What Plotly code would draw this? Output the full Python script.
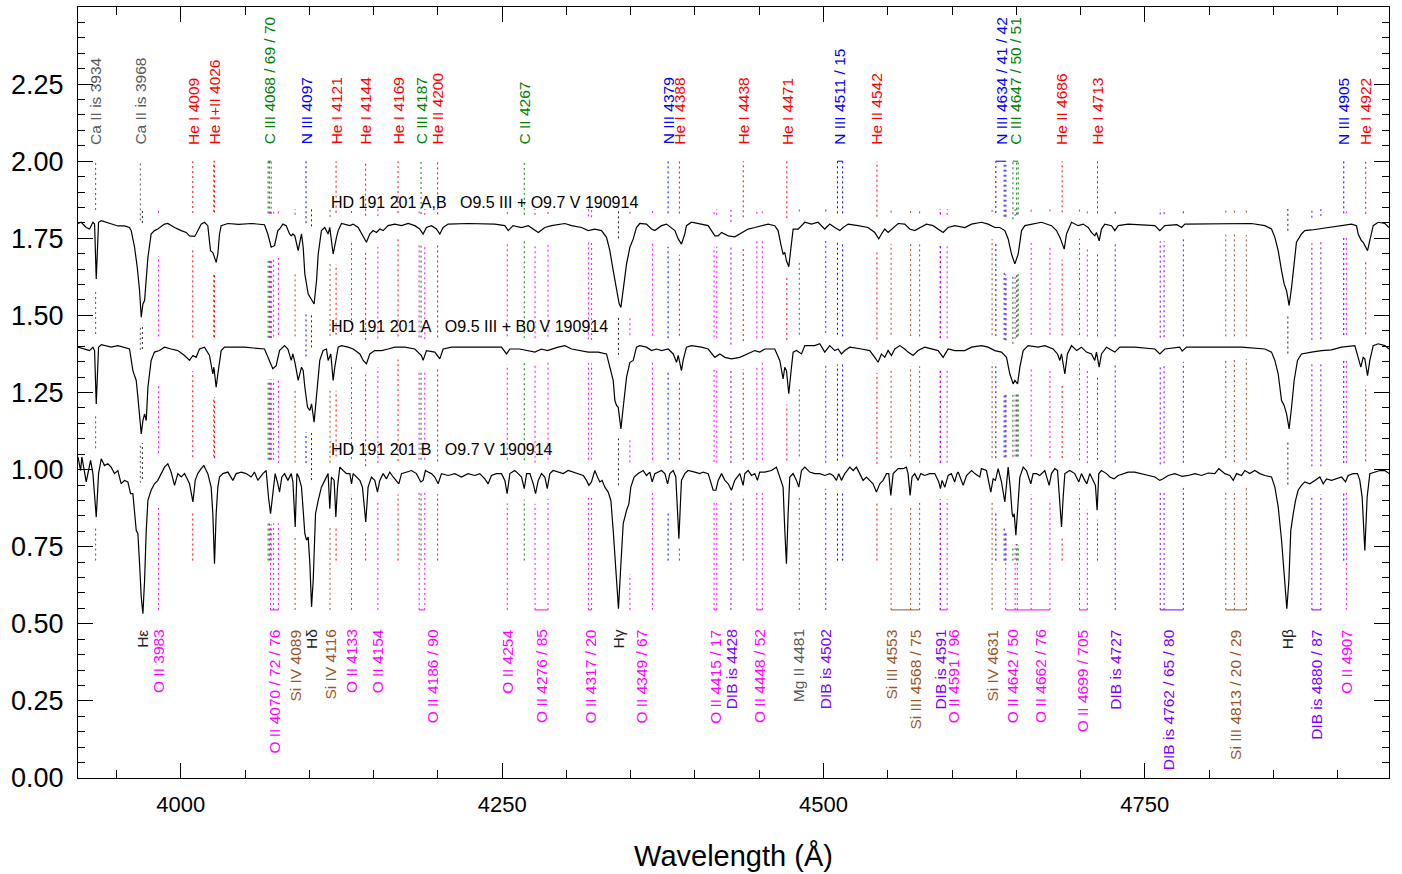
import numpy as np
import plotly.graph_objects as go

# ---------------- DATA ----------------
# normalized spectra (continuum = 1): (wavelength [A], flux)
spec_AB = [
(3920.0,0.998),(3922.5,1.002),(3926.4,0.985),(3929.0,0.980),(3931.6,1.002),(3932.9,0.996),(3934.2,0.818),(3936.0,1.002),
(3938.1,1.007),(3945.8,0.996),(3951.0,0.990),(3956.2,0.990),(3960.1,0.985),(3961.4,0.975),(3964.0,0.921),(3966.1,0.856),
(3967.9,0.780),(3969.2,0.694),(3970.5,0.737),(3971.8,0.748),(3973.1,0.813),(3974.4,0.888),(3976.9,0.964),(3979.5,0.975),
(3982.1,0.980),(3987.3,0.996),(3989.9,0.998),(3995.1,0.985),(4000.3,0.975),(4004.2,0.969),(4006.8,0.958),(4010.7,0.956),
(4011.9,0.964),(4015.8,0.996),(4018.4,1.002),(4021.0,0.991),(4023.1,0.910),(4024.9,0.904),(4026.2,0.888),(4027.5,0.872),
(4028.8,0.899),(4030.1,0.964),(4031.4,0.991),(4036.6,0.998),(4045.0,0.995),(4055.0,0.998),(4065.1,0.994),(4067.7,0.964),
(4070.3,0.921),(4072.9,0.926),(4075.5,0.975),(4076.8,0.980),(4079.4,0.996),(4082.0,0.991),(4084.6,0.964),(4085.9,0.958),
(4087.2,0.964),(4088.7,0.958),(4091.3,0.910),(4092.6,0.942),(4093.9,0.964),(4095.2,0.921),(4096.5,0.834),(4099.1,0.769),
(4101.7,0.753),(4103.7,0.737),(4105.6,0.813),(4106.9,0.899),(4109.4,0.975),(4112.0,0.985),(4114.6,0.964),(4115.9,0.985),
(4118.5,0.899),(4119.8,0.931),(4121.1,0.953),(4122.4,0.975),(4125.0,0.998),(4131.5,0.991),(4134.1,0.996),(4138.0,0.985),
(4140.6,0.964),(4144.4,0.937),(4147.0,0.964),(4149.6,0.975),(4152.2,0.969),(4154.8,0.980),(4157.4,0.975),(4161.3,0.991),
(4166.5,0.996),(4171.7,0.991),(4176.9,0.998),(4182.0,0.991),(4185.9,0.980),(4188.5,0.964),(4191.1,0.985),(4195.0,0.991),
(4198.9,0.980),(4201.5,0.964),(4204.1,0.985),(4208.0,0.996),(4223.5,0.998),(4244.3,0.996),(4252.1,0.991),(4254.7,0.975),
(4258.5,0.991),(4265.1,0.985),(4270.3,0.991),(4275.5,0.975),(4278.1,0.969),(4283.2,0.985),(4288.4,0.991),(4298.8,0.998),
(4304.0,0.991),(4311.8,0.985),(4317.0,0.975),(4322.1,0.980),(4327.3,0.975),(4331.2,0.953),(4333.8,0.910),(4336.4,0.845),
(4339.0,0.780),(4341.1,0.737),(4342.4,0.726),(4344.2,0.780),(4346.8,0.867),(4349.4,0.921),(4352.0,0.948),(4354.5,0.985),
(4357.1,0.998),(4362.3,0.996),(4366.2,0.980),(4368.8,0.975),(4374.0,0.991),(4377.9,0.996),(4381.8,0.985),(4384.4,0.975),
(4387.0,0.948),(4389.5,0.931),(4392.1,0.964),(4393.4,0.991),(4397.3,1.002),(4405.1,0.996),(4410.3,0.991),(4415.5,0.958),
(4418.1,0.958),(4420.7,0.969),(4425.9,0.958),(4431.0,0.955),(4434.9,0.964),(4441.4,0.980),(4446.6,0.985),(4451.7,0.991),
(4456.9,0.996),(4462.1,0.991),(4464.7,0.975),(4466.8,0.931),(4468.6,0.899),(4469.9,0.904),(4471.2,0.877),(4473.0,0.858),
(4475.1,0.942),(4476.4,0.980),(4480.3,0.980),(4485.5,1.002),(4490.6,0.996),(4495.8,1.002),(4501.0,0.980),(4504.9,0.996),
(4508.8,0.985),(4512.7,0.975),(4515.3,0.985),(4519.2,0.996),(4526.9,0.991),(4534.7,0.985),(4539.9,0.969),(4543.0,0.948),
(4545.1,0.964),(4547.7,0.980),(4550.3,0.969),(4554.2,0.985),(4558.1,0.998),(4563.2,0.996),(4567.1,0.980),(4571.0,0.975),
(4574.9,0.985),(4580.1,0.996),(4585.3,0.991),(4589.2,0.980),(4593.1,0.969),(4597.0,0.985),(4602.1,0.991),(4610.0,0.985),
(4615.2,0.996),(4622.9,1.002),(4628.1,0.996),(4633.3,0.985),(4637.2,0.985),(4641.1,0.975),(4643.7,0.948),(4646.3,0.899),
(4648.9,0.867),(4651.5,0.899),(4654.1,0.975),(4656.7,0.991),(4661.8,0.996),(4669.6,1.002),(4677.4,0.991),(4681.3,0.975),
(4684.0,0.953),(4687.3,0.915),(4689.1,0.964),(4693.0,1.002),(4698.1,0.991),(4702.0,0.996),(4706.0,0.985),(4708.5,0.969),
(4711.1,0.958),(4712.4,0.969),(4714.5,0.942),(4716.3,0.980),(4718.9,0.996),(4724.1,0.991),(4726.7,0.975),(4729.3,0.991),
(4737.0,0.996),(4757.8,0.991),(4761.7,0.975),(4765.6,0.991),(4775.0,0.994),(4778.6,0.985),(4781.2,0.996),(4799.3,0.996),
(4812.3,0.998),(4833.0,0.998),(4843.4,0.991),(4848.6,0.980),(4851.2,0.953),(4853.8,0.910),(4856.4,0.845),(4858.4,0.802),
(4860.3,0.780),(4862.3,0.732),(4864.2,0.791),(4866.2,0.877),(4868.0,0.937),(4871.9,0.964),(4874.5,0.975),(4879.7,0.977),
(4887.5,0.982),(4895.3,0.988),(4903.1,0.993),(4910.8,0.996),(4914.7,0.991),(4916.0,0.964),(4918.6,0.942),(4919.9,0.937),
(4923.3,0.910),(4925.1,0.948),(4927.7,0.991),(4931.6,1.002),(4936.8,0.998),(4940.0,0.985),
]

spec_A = [
(3920.0,0.997),(3925.1,0.991),(3929.0,0.986),(3931.6,0.997),(3932.9,0.986),(3934.2,0.813),(3936.0,0.997),(3938.1,1.005),
(3945.8,0.997),(3951.0,1.002),(3956.2,0.997),(3960.1,0.991),(3962.7,0.921),(3965.3,0.889),(3966.6,0.835),(3967.9,0.781),
(3969.2,0.716),(3970.5,0.759),(3971.8,0.781),(3973.1,0.759),(3974.4,0.867),(3976.9,0.954),(3979.5,0.981),(3983.4,0.986),
(3987.3,0.997),(3992.5,0.991),(3997.7,0.986),(4002.9,0.970),(4006.8,0.954),(4009.4,0.970),(4011.9,0.964),(4014.5,0.991),
(4018.4,0.997),(4022.3,0.970),(4023.6,0.932),(4024.9,0.910),(4025.7,0.932),(4027.5,0.867),(4028.8,0.910),(4031.4,0.986),
(4034.0,0.997),(4049.6,0.997),(4065.1,0.991),(4069.0,0.954),(4071.6,0.927),(4074.2,0.937),(4076.8,0.986),(4080.7,1.002),
(4083.3,0.991),(4085.9,0.954),(4087.2,0.975),(4089.0,0.943),(4091.3,0.889),(4093.9,0.932),(4095.2,0.921),(4096.5,0.867),
(4098.6,0.802),(4100.4,0.792),(4101.7,0.813),(4103.7,0.754),(4105.6,0.846),(4108.1,0.954),(4110.7,0.986),(4113.3,0.991),
(4114.6,0.954),(4116.7,0.975),(4118.5,0.889),(4119.8,0.932),(4122.4,0.997),(4125.0,1.002),(4130.2,0.997),(4134.1,0.991),
(4139.3,0.975),(4141.9,0.954),(4144.4,0.943),(4147.0,0.975),(4150.9,0.986),(4156.1,0.986),(4161.3,0.991),(4166.5,0.997),
(4174.3,0.997),(4182.0,0.991),(4187.2,0.970),(4188.5,0.954),(4191.1,0.986),(4197.6,0.981),(4201.5,0.959),(4204.1,0.991),
(4210.6,0.997),(4230.0,0.998),(4249.5,0.997),(4253.4,0.975),(4256.0,0.991),(4263.7,0.991),(4270.3,0.986),(4275.5,0.981),
(4280.6,0.991),(4285.1,0.986),(4293.6,0.997),(4298.8,1.002),(4304.0,0.991),(4311.8,0.986),(4317.0,0.981),(4324.7,0.981),
(4331.2,0.975),(4333.8,0.932),(4336.4,0.889),(4337.7,0.824),(4339.0,0.808),(4340.3,0.802),(4342.4,0.732),(4344.2,0.802),
(4346.8,0.900),(4349.4,0.948),(4352.0,0.954),(4354.5,0.997),(4357.1,1.002),(4362.3,0.997),(4366.2,0.986),(4370.1,0.991),
(4374.0,0.986),(4379.2,0.991),(4383.1,0.975),(4385.7,0.948),(4387.0,0.970),(4389.5,0.921),(4390.8,0.954),(4393.4,0.997),
(4397.3,1.002),(4405.1,0.997),(4410.3,0.991),(4415.5,0.964),(4419.4,0.975),(4423.3,0.964),(4428.4,0.959),(4434.9,0.964),
(4441.4,0.975),(4446.6,0.986),(4450.4,0.981),(4454.3,0.991),(4462.1,0.991),(4466.0,0.954),(4468.6,0.894),(4469.9,0.932),
(4471.2,0.921),(4473.0,0.846),(4475.1,0.932),(4476.4,0.981),(4479.0,0.986),(4482.9,0.975),(4485.5,1.002),(4493.2,1.002),
(4497.1,1.008),(4501.0,0.981),(4504.9,1.002),(4508.8,0.986),(4511.4,0.991),(4514.0,0.975),(4516.6,0.986),(4520.5,0.997),
(4529.5,0.991),(4536.0,0.986),(4539.9,0.964),(4542.5,0.948),(4545.1,0.975),(4547.7,0.964),(4550.3,0.986),(4552.9,0.970),
(4555.5,0.991),(4559.4,1.002),(4563.2,0.991),(4565.8,0.981),(4569.7,0.970),(4573.6,0.986),(4578.8,0.997),(4584.0,0.991),
(4589.2,0.986),(4593.1,0.964),(4597.0,0.991),(4602.1,0.986),(4610.0,0.986),(4615.2,0.997),(4622.9,1.002),(4628.1,0.997),
(4633.3,0.986),(4638.5,0.981),(4642.4,0.964),(4645.0,0.910),(4647.6,0.878),(4648.9,0.889),(4651.0,0.878),(4652.8,0.932),
(4655.4,0.986),(4659.2,1.002),(4667.0,0.997),(4672.2,1.002),(4678.7,0.991),(4682.1,0.975),(4683.9,0.954),(4685.2,0.975),
(4687.8,0.910),(4689.8,0.975),(4693.0,1.002),(4697.0,0.986),(4700.7,0.997),(4704.6,0.981),(4708.5,0.975),(4711.1,0.954),
(4712.4,0.981),(4714.5,0.932),(4716.3,0.975),(4720.2,0.997),(4726.7,0.981),(4730.6,0.997),(4742.2,0.997),(4757.8,0.991),
(4761.7,0.975),(4765.6,0.991),(4777.2,0.997),(4779.1,0.984),(4782.5,0.997),(4799.3,0.997),(4825.3,0.997),(4843.4,0.991),
(4848.6,0.981),(4851.2,0.954),(4853.8,0.910),(4856.4,0.824),(4858.4,0.808),(4860.3,0.781),(4862.3,0.732),(4864.2,0.802),
(4866.2,0.889),(4868.8,0.954),(4871.9,0.975),(4879.7,0.981),(4887.5,0.986),(4895.3,0.988),(4903.1,0.997),(4913.4,1.002),
(4916.0,0.964),(4918.1,0.932),(4919.9,0.964),(4921.2,0.959),(4923.3,0.905),(4925.1,0.954),(4927.7,1.002),(4931.6,1.008),
(4936.8,1.002),(4940.0,0.991),
]

spec_B = [
(3920.0,1.041),(3922.0,0.997),(3923.0,1.041),(3924.6,1.008),(3926.4,0.960),(3927.7,0.987),(3929.8,1.030),(3931.6,0.987),
(3934.2,0.846),(3936.0,0.987),(3938.1,1.035),(3940.6,1.013),(3943.2,1.019),(3945.8,1.008),(3948.4,0.987),(3951.0,0.997),
(3953.6,0.954),(3956.2,0.965),(3958.8,0.960),(3960.9,0.922),(3962.7,0.922),(3965.3,0.803),(3966.6,0.792),(3967.9,0.695),
(3969.2,0.587),(3970.5,0.533),(3971.8,0.641),(3973.1,0.803),(3974.4,0.900),(3976.9,0.933),(3979.5,0.954),(3982.1,0.965),
(3984.7,0.987),(3987.3,1.008),(3989.9,1.019),(3992.5,0.992),(3995.1,0.949),(3997.7,0.987),(4000.3,0.976),(4002.9,0.987),
(4006.8,0.954),(4009.4,0.895),(4011.2,0.965),(4013.2,0.987),(4015.8,1.003),(4017.9,1.013),(4021.0,0.987),(4023.6,0.943),
(4024.9,0.857),(4026.2,0.695),(4027.5,0.857),(4028.8,0.943),(4030.1,0.976),(4032.7,0.987),(4036.6,0.992),(4040.5,0.965),
(4043.1,0.987),(4047.0,0.992),(4050.8,0.987),(4054.7,0.976),(4057.3,0.992),(4059.9,0.965),(4063.8,0.987),(4066.4,0.997),
(4068.2,0.911),(4069.8,0.857),(4071.6,0.922),(4073.4,0.987),(4075.5,0.954),(4076.8,0.927),(4078.6,0.976),(4080.7,0.987),
(4083.3,0.965),(4085.9,0.987),(4087.2,0.960),(4089.0,0.814),(4090.3,0.987),(4091.8,0.976),(4093.9,0.943),(4095.2,0.857),
(4096.5,0.792),(4097.8,0.771),(4099.1,0.781),(4100.4,0.695),(4101.7,0.555),(4103.0,0.641),(4104.8,0.857),(4106.9,0.900),
(4109.4,0.943),(4112.0,0.965),(4114.6,0.987),(4115.9,0.873),(4117.2,0.976),(4119.3,0.965),(4120.6,0.846),(4121.9,0.943),
(4123.7,1.008),(4126.3,0.997),(4128.9,0.987),(4131.5,0.987),(4132.8,0.954),(4134.1,0.987),(4136.7,0.976),(4139.3,0.965),
(4141.3,0.943),(4143.9,0.830),(4145.7,0.943),(4148.3,0.976),(4150.9,0.965),(4153.0,0.927),(4154.8,0.965),(4157.4,0.987),
(4160.0,0.970),(4162.6,0.992),(4165.2,0.976),(4167.8,0.965),(4169.6,0.954),(4171.7,0.987),(4175.6,0.992),(4179.5,0.997),
(4183.3,0.987),(4186.7,0.960),(4188.5,0.965),(4190.3,0.997),(4192.4,0.992),(4195.0,0.987),(4197.6,0.976),(4200.2,0.954),
(4202.8,0.987),(4208.0,0.981),(4213.2,0.987),(4218.3,0.976),(4223.5,0.987),(4228.7,0.981),(4232.6,0.987),(4236.5,0.970),
(4239.1,0.954),(4241.7,0.981),(4245.6,0.987),(4249.5,0.987),(4252.1,0.965),(4253.9,0.922),(4256.0,0.987),(4259.8,0.997),
(4262.5,0.987),(4265.1,0.976),(4267.2,0.938),(4269.0,0.987),(4271.6,0.987),(4274.2,0.954),(4276.0,0.922),(4278.1,0.965),
(4280.6,0.987),(4283.2,0.976),(4285.1,0.938),(4287.1,0.987),(4289.7,0.997),(4293.6,0.992),(4297.5,0.987),(4301.4,0.997),
(4305.3,0.992),(4309.2,0.987),(4313.1,0.981),(4315.6,0.965),(4317.5,0.949),(4319.5,0.960),(4322.1,0.997),(4324.2,0.976),
(4326.0,0.960),(4327.8,0.965),(4329.9,0.943),(4332.5,0.927),(4334.6,0.900),(4336.4,0.803),(4337.7,0.728),(4339.0,0.641),
(4340.5,0.549),(4342.4,0.695),(4344.2,0.825),(4346.8,0.868),(4348.6,0.889),(4350.1,0.943),(4352.7,0.976),(4355.8,0.987),
(4359.7,0.997),(4362.3,0.981),(4364.9,0.992),(4366.7,0.960),(4368.8,0.987),(4374.0,0.997),(4376.6,0.987),(4378.7,0.954),
(4380.5,0.987),(4383.1,0.997),(4385.1,0.976),(4387.5,0.776),(4389.5,0.965),(4392.1,0.987),(4394.7,0.997),(4399.9,0.992),
(4403.8,0.987),(4406.4,0.992),(4410.3,0.987),(4414.2,0.933),(4416.3,0.933),(4418.1,0.965),(4420.7,0.987),(4423.3,0.965),
(4425.9,0.954),(4428.4,0.933),(4431.0,0.965),(4434.9,0.987),(4437.5,0.949),(4438.8,0.987),(4441.4,0.997),(4444.0,0.981),
(4446.6,0.987),(4448.6,0.965),(4450.4,0.992),(4454.3,0.992),(4459.5,0.997),(4463.4,1.008),(4466.0,0.976),(4468.6,0.943),
(4469.9,0.803),(4471.2,0.695),(4472.5,0.857),(4473.8,0.976),(4476.4,0.987),(4479.0,0.965),(4480.8,0.943),(4482.9,0.997),
(4485.5,1.008),(4489.3,0.992),(4493.2,0.987),(4497.1,0.987),(4501.0,0.981),(4504.9,0.987),(4507.5,0.981),(4510.1,0.965),
(4511.9,0.987),(4514.0,0.965),(4516.6,0.987),(4520.5,1.008),(4523.1,0.997),(4525.6,1.008),(4528.2,0.987),(4530.8,0.965),
(4533.4,0.976),(4536.0,0.965),(4538.6,0.954),(4541.2,0.927),(4543.8,0.954),(4546.4,0.965),(4549.0,0.987),(4550.8,0.987),
(4552.4,0.916),(4554.2,0.987),(4558.1,1.003),(4562.0,1.003),(4564.5,1.008),(4565.8,0.987),(4567.4,0.916),(4568.9,0.976),
(4571.0,0.987),(4573.6,0.965),(4575.7,0.987),(4578.8,0.981),(4582.7,0.987),(4586.6,0.987),(4589.7,0.960),(4591.0,0.938),
(4592.3,0.965),(4594.4,0.943),(4597.0,0.981),(4599.5,0.987),(4602.1,0.960),(4603.9,0.987),(4604.8,0.992),(4608.7,0.949),
(4611.3,0.981),(4615.2,0.997),(4617.8,0.987),(4621.6,0.976),(4622.9,1.003),(4626.8,0.997),(4630.2,0.927),(4632.0,0.970),
(4633.8,0.965),(4635.9,1.003),(4638.5,0.960),(4641.1,0.895),(4642.4,0.965),(4643.7,1.008),(4645.3,0.943),(4646.8,0.857),
(4647.6,0.846),(4648.4,0.857),(4649.7,0.787),(4651.5,0.911),(4652.8,0.976),(4655.4,1.008),(4657.9,0.997),(4661.3,0.954),
(4663.1,0.987),(4665.7,0.987),(4668.3,0.981),(4672.2,0.997),(4675.6,0.949),(4677.4,0.987),(4680.0,1.003),(4682.1,0.997),
(4683.9,0.900),(4685.2,0.814),(4686.5,0.911),(4687.8,0.987),(4691.7,0.997),(4695.5,0.987),(4698.7,0.960),(4700.7,0.987),
(4703.3,0.965),(4704.9,0.954),(4707.2,0.987),(4709.8,0.965),(4711.6,0.949),(4712.9,0.868),(4714.2,0.987),(4716.3,0.997),
(4720.2,0.987),(4722.8,0.976),(4726.1,0.970),(4729.3,0.981),(4733.1,0.987),(4737.0,0.992),(4742.2,0.992),(4747.4,0.987),
(4752.6,0.981),(4757.8,0.976),(4761.7,0.965),(4764.3,0.970),(4768.2,0.981),(4773.3,0.987),(4777.2,0.981),(4779.0,0.978),
(4783.8,0.981),(4789.0,0.987),(4794.1,0.981),(4799.3,0.989),(4804.5,0.987),(4807.6,1.003),(4812.3,0.987),(4816.2,0.981),
(4818.8,0.965),(4821.4,0.987),(4825.3,0.981),(4827.9,0.997),(4831.7,0.987),(4835.6,0.997),(4839.5,0.987),(4843.4,0.981),
(4848.6,0.976),(4851.2,0.943),(4853.8,0.879),(4856.4,0.771),(4858.4,0.663),(4860.5,0.549),(4862.1,0.641),(4863.6,0.803),
(4865.5,0.857),(4867.3,0.900),(4869.3,0.933),(4871.9,0.949),(4874.5,0.960),(4878.4,0.954),(4882.3,0.965),(4886.2,0.976),
(4888.8,0.954),(4891.4,0.970),(4895.3,0.965),(4899.2,0.970),(4903.1,0.976),(4906.2,0.960),(4908.2,0.981),(4912.1,0.987),
(4915.5,0.987),(4917.3,0.965),(4919.1,0.911),(4921.2,0.738),(4923.0,0.911),(4925.1,0.987),(4929.0,0.992),(4932.9,0.997),
(4936.8,0.997),(4940.0,0.987),
]

spectrum_offsets = [0.8, 0.4, 0.0]
spectrum_names = [
    "HD 191 201 A,B   O9.5 III + O9.7 V 190914",
    "HD 191 201 A   O9.5 III + B0 V 190914",
    "HD 191 201 B   O9.7 V 190914",
]

# lines identified above the spectra
top_labels = [
    "Ca II is 3934", "Ca II is 3968", "He I 4009", "He I+II 4026", "C III 4068 / 69 / 70", "N III 4097",
    "He I 4121", "He I 4144", "He I 4169", "C III 4187", "He II 4200", "C II 4267", "N III 4379",
    "He I 4388", "He I 4438", "He I 4471", "N III 4511 / 15", "He II 4542", "N III 4634 / 41 / 42",
    "C III 4647 / 50 / 51", "He II 4686", "He I 4713", "N III 4905", "He I 4922",
]
top_waves = [
    [3933.7], [3968.5], [4009.3], [4025.6, 4026.2], [4067.9, 4068.9, 4070.3], [4097.4],
    [4120.8], [4143.8], [4169.0], [4186.9], [4199.8], [4267.2], [4379.1],
    [4387.9], [4437.6], [4471.5], [4510.9, 4514.9], [4541.6], [4634.1, 4640.6, 4641.9],
    [4647.4, 4650.3, 4651.5], [4685.7], [4713.2], [4904.8], [4921.9],
]

# lines identified below the spectra
bottom_labels = [
    "H\u03b5", "O II 3983", "O II 4070 / 72 / 76", "Si IV 4089", "H\u03b4", "Si IV 4116", "O II 4133",
    "O II 4154", "O II 4186 / 90", "O II 4254", "O II 4276 / 85", "O II 4317 / 20", "H\u03b3",
    "O II 4349 / 67", "O II 4415 / 17", "DIB is 4428", "O II 4448 / 52", "Mg II 4481", "DIB is 4502",
    "Si III 4553", "Si III 4568 / 75", "DIB is 4591", "O II 4591 / 96", "Si IV 4631", "O II 4642 / 50",
    "O II 4662 / 76", "O II 4699 / 705", "DIB is 4727", "DIB is 4762 / 65 / 80", "Si III 4813 / 20 / 29",
    "H\u03b2", "DIB is 4880 / 87", "O II 4907",
]
bottom_waves = [
    [3970.1], [3982.7], [4069.8, 4072.2, 4075.9], [4088.9], [4101.7], [4116.1], [4132.8],
    [4153.3], [4185.4, 4189.8], [4254.0], [4275.6, 4285.7], [4317.1, 4319.6], [4340.5],
    [4349.4, 4366.9], [4414.9, 4417.0], [4428.0], [4448.2, 4452.4], [4481.2], [4501.8],
    [4552.6], [4567.8, 4574.8], [4590.8], [4591.0, 4596.2], [4631.2], [4641.8, 4649.1, 4650.8],
    [4661.6, 4676.2], [4699.2, 4705.3], [4727.0], [4762.0, 4765.0, 4780.0], [4813.0, 4819.7, 4829.0],
    [4861.3], [4880.0, 4887.0], [4906.8],
]
# multiplets joined at the foot of the marks
bottom_multiplets = [
    ("O II", 4069.8, 4075.9), ("O II", 4185.4, 4189.8), ("O II", 4275.6, 4285.7), ("O II", 4317.1, 4319.6),
    ("O II", 4414.9, 4417.0), ("O II", 4448.2, 4452.4), ("Si III", 4552.6, 4574.8), ("O II", 4591.0, 4596.2),
    ("O II", 4641.8, 4676.2), ("O II", 4699.2, 4705.3), ("DIB", 4762.0, 4780.0), ("Si III", 4813.0, 4829.0),
    ("DIB", 4880.0, 4887.0),
]

# ---------------- STYLE ----------------
FONT = "Liberation Sans, Arial, Helvetica, sans-serif"
COL = {"He": "#ff0000", "N": "#0000ff", "C": "#008000", "gray": "#5a5a5a", "O": "#ff00ff",
       "Si": "#9a5426", "DIB": "#8000ff", "H": "#222222"}


def color_for(name):
    if name.startswith("He"):
        return COL["He"]
    if name.startswith("N III"):
        return COL["N"]
    if name.startswith("C II"):
        return COL["C"]
    if name.startswith("Ca II") or name.startswith("Mg II"):
        return COL["gray"]
    if name.startswith("O II"):
        return COL["O"]
    if name.startswith("Si"):
        return COL["Si"]
    if name.startswith("DIB"):
        return COL["DIB"]
    return COL["H"]


label_xshift = {"O II 4186 / 90": 10, "O II 4591 / 96": 10}

TOP_Y0, TOP_Y1 = 2.0, 0.705      # extent of the marks for the upper identifications
BOT_Y0, BOT_Y1 = 1.845, 0.545    # extent of the marks for the lower identifications
TOP_TXT, BOT_TXT = 2.05, 0.485
GAP_HALFWIDTH, GAP_MARGIN = 7.0, 0.035

spectra = [np.array(s) for s in (spec_AB, spec_A, spec_B)]


def mark_intervals(wl, y_top, y_bot):
    intervals = [(y_bot, y_top)]
    for arr, off in zip(spectra, spectrum_offsets):
        w = np.linspace(wl - GAP_HALFWIDTH, wl + GAP_HALFWIDTH, 57)
        f = np.interp(w, arr[:, 0], arr[:, 1]) + off
        g0, g1 = f.min() - GAP_MARGIN, f.max() + GAP_MARGIN
        new = []
        for a, b in intervals:
            if g1 <= a or g0 >= b:
                new.append((a, b))
                continue
            if g0 > a:
                new.append((a, g0))
            if g1 < b:
                new.append((g1, b))
        intervals = new
    return intervals


fig = go.Figure()

# dotted identification marks, one trace per colour
marks = {}
for labels, waves, y0, y1 in ((top_labels, top_waves, TOP_Y0, TOP_Y1),
                              (bottom_labels, bottom_waves, BOT_Y0, BOT_Y1)):
    for lab, comps in zip(labels, waves):
        c = color_for(lab)
        xs, ys = marks.setdefault(c, ([], []))
        for wl in comps:
            for a, b in mark_intervals(wl, y0, y1):
                if b - a > 0.004:
                    xs += [wl, wl, None]
                    ys += [a, b, None]
for c, (xs, ys) in marks.items():
    fig.add_trace(go.Scatter(x=xs, y=ys, mode="lines", hoverinfo="skip", showlegend=False,
                             line=dict(color=c, width=1, dash="2px,3px")))

# multiplet bars
bars = {}
for key, w0, w1 in bottom_multiplets:
    c = color_for(key)
    xs, ys = bars.setdefault(c, ([], []))
    xs += [w0, w1, None]
    ys += [BOT_Y1, BOT_Y1, None]
for lab, comps in zip(top_labels, top_waves):
    if len(comps) > 1:
        c = color_for(lab)
        xs, ys = bars.setdefault(c, ([], []))
        xs += [min(comps), max(comps), None]
        ys += [TOP_Y0, TOP_Y0, None]
for c, (xs, ys) in bars.items():
    fig.add_trace(go.Scatter(x=xs, y=ys, mode="lines", hoverinfo="skip", showlegend=False,
                             line=dict(color=c, width=1)))

# spectra
for arr, off in zip(spectra, spectrum_offsets):
    fig.add_trace(go.Scatter(x=arr[:, 0], y=arr[:, 1] + off, mode="lines", showlegend=False,
                             line=dict(color="black", width=1.2)))

ann = []
for lab, comps in zip(top_labels, top_waves):
    ann.append(dict(x=float(np.mean(comps)), y=TOP_TXT, text=lab, textangle=-90, showarrow=False,
                    xanchor="center", yanchor="bottom", font=dict(family=FONT, size=15.5, color=color_for(lab)),
                    borderpad=0))
for lab, comps in zip(bottom_labels, bottom_waves):
    ann.append(dict(x=float(np.mean(comps)), y=BOT_TXT, text=lab, textangle=-90, showarrow=False,
                    xanchor="center", yanchor="top", xshift=label_xshift.get(lab, 0),
                    font=dict(family=FONT, size=15.5, color=color_for(lab)), borderpad=0))
for name, off in zip(spectrum_names, spectrum_offsets):
    ann.append(dict(x=4115, y=1.065 + off, text=name.replace(" ", "\u00a0"), showarrow=False,
                    xanchor="left", yanchor="middle", font=dict(family=FONT, size=16, color="black")))

fig.update_layout(
    width=1402, height=874, autosize=False,
    margin=dict(l=78, r=13, t=7, b=96),
    paper_bgcolor="white", plot_bgcolor="white",
    annotations=ann,
    xaxis=dict(range=[3920, 4940], tickvals=[4000, 4250, 4500, 4750], ticks="inside", ticklen=15,
               tickwidth=1, tickcolor="black", showline=True, linecolor="black", linewidth=1.2,
               mirror="ticks", showgrid=False, zeroline=False, ticklabelstandoff=6,
               minor=dict(dtick=50, tick0=0, ticks="inside", ticklen=8, tickcolor="black", showgrid=False),
               tickfont=dict(family=FONT, size=22, color="black"),
               title=dict(text="Wavelength (\u00c5)", font=dict(family=FONT, size=29, color="black"),
                          standoff=30)),
    yaxis=dict(range=[0, 2.5], tickvals=[0, 0.25, 0.5, 0.75, 1.0, 1.25, 1.5, 1.75, 2.0, 2.25],
               ticktext=["0.00", "0.25", "0.50", "0.75", "1.00", "1.25", "1.50", "1.75", "2.00", "2.25"],
               ticks="inside", ticklen=15, tickwidth=1, tickcolor="black", showline=True, linecolor="black",
               linewidth=1.2, mirror="ticks", showgrid=False, zeroline=False, ticklabelstandoff=8,
               minor=dict(dtick=0.05, tick0=0, ticks="inside", ticklen=7, tickcolor="black", showgrid=False),
               tickfont=dict(family=FONT, size=27, color="black")),
)

fig.write_html("out.html")
